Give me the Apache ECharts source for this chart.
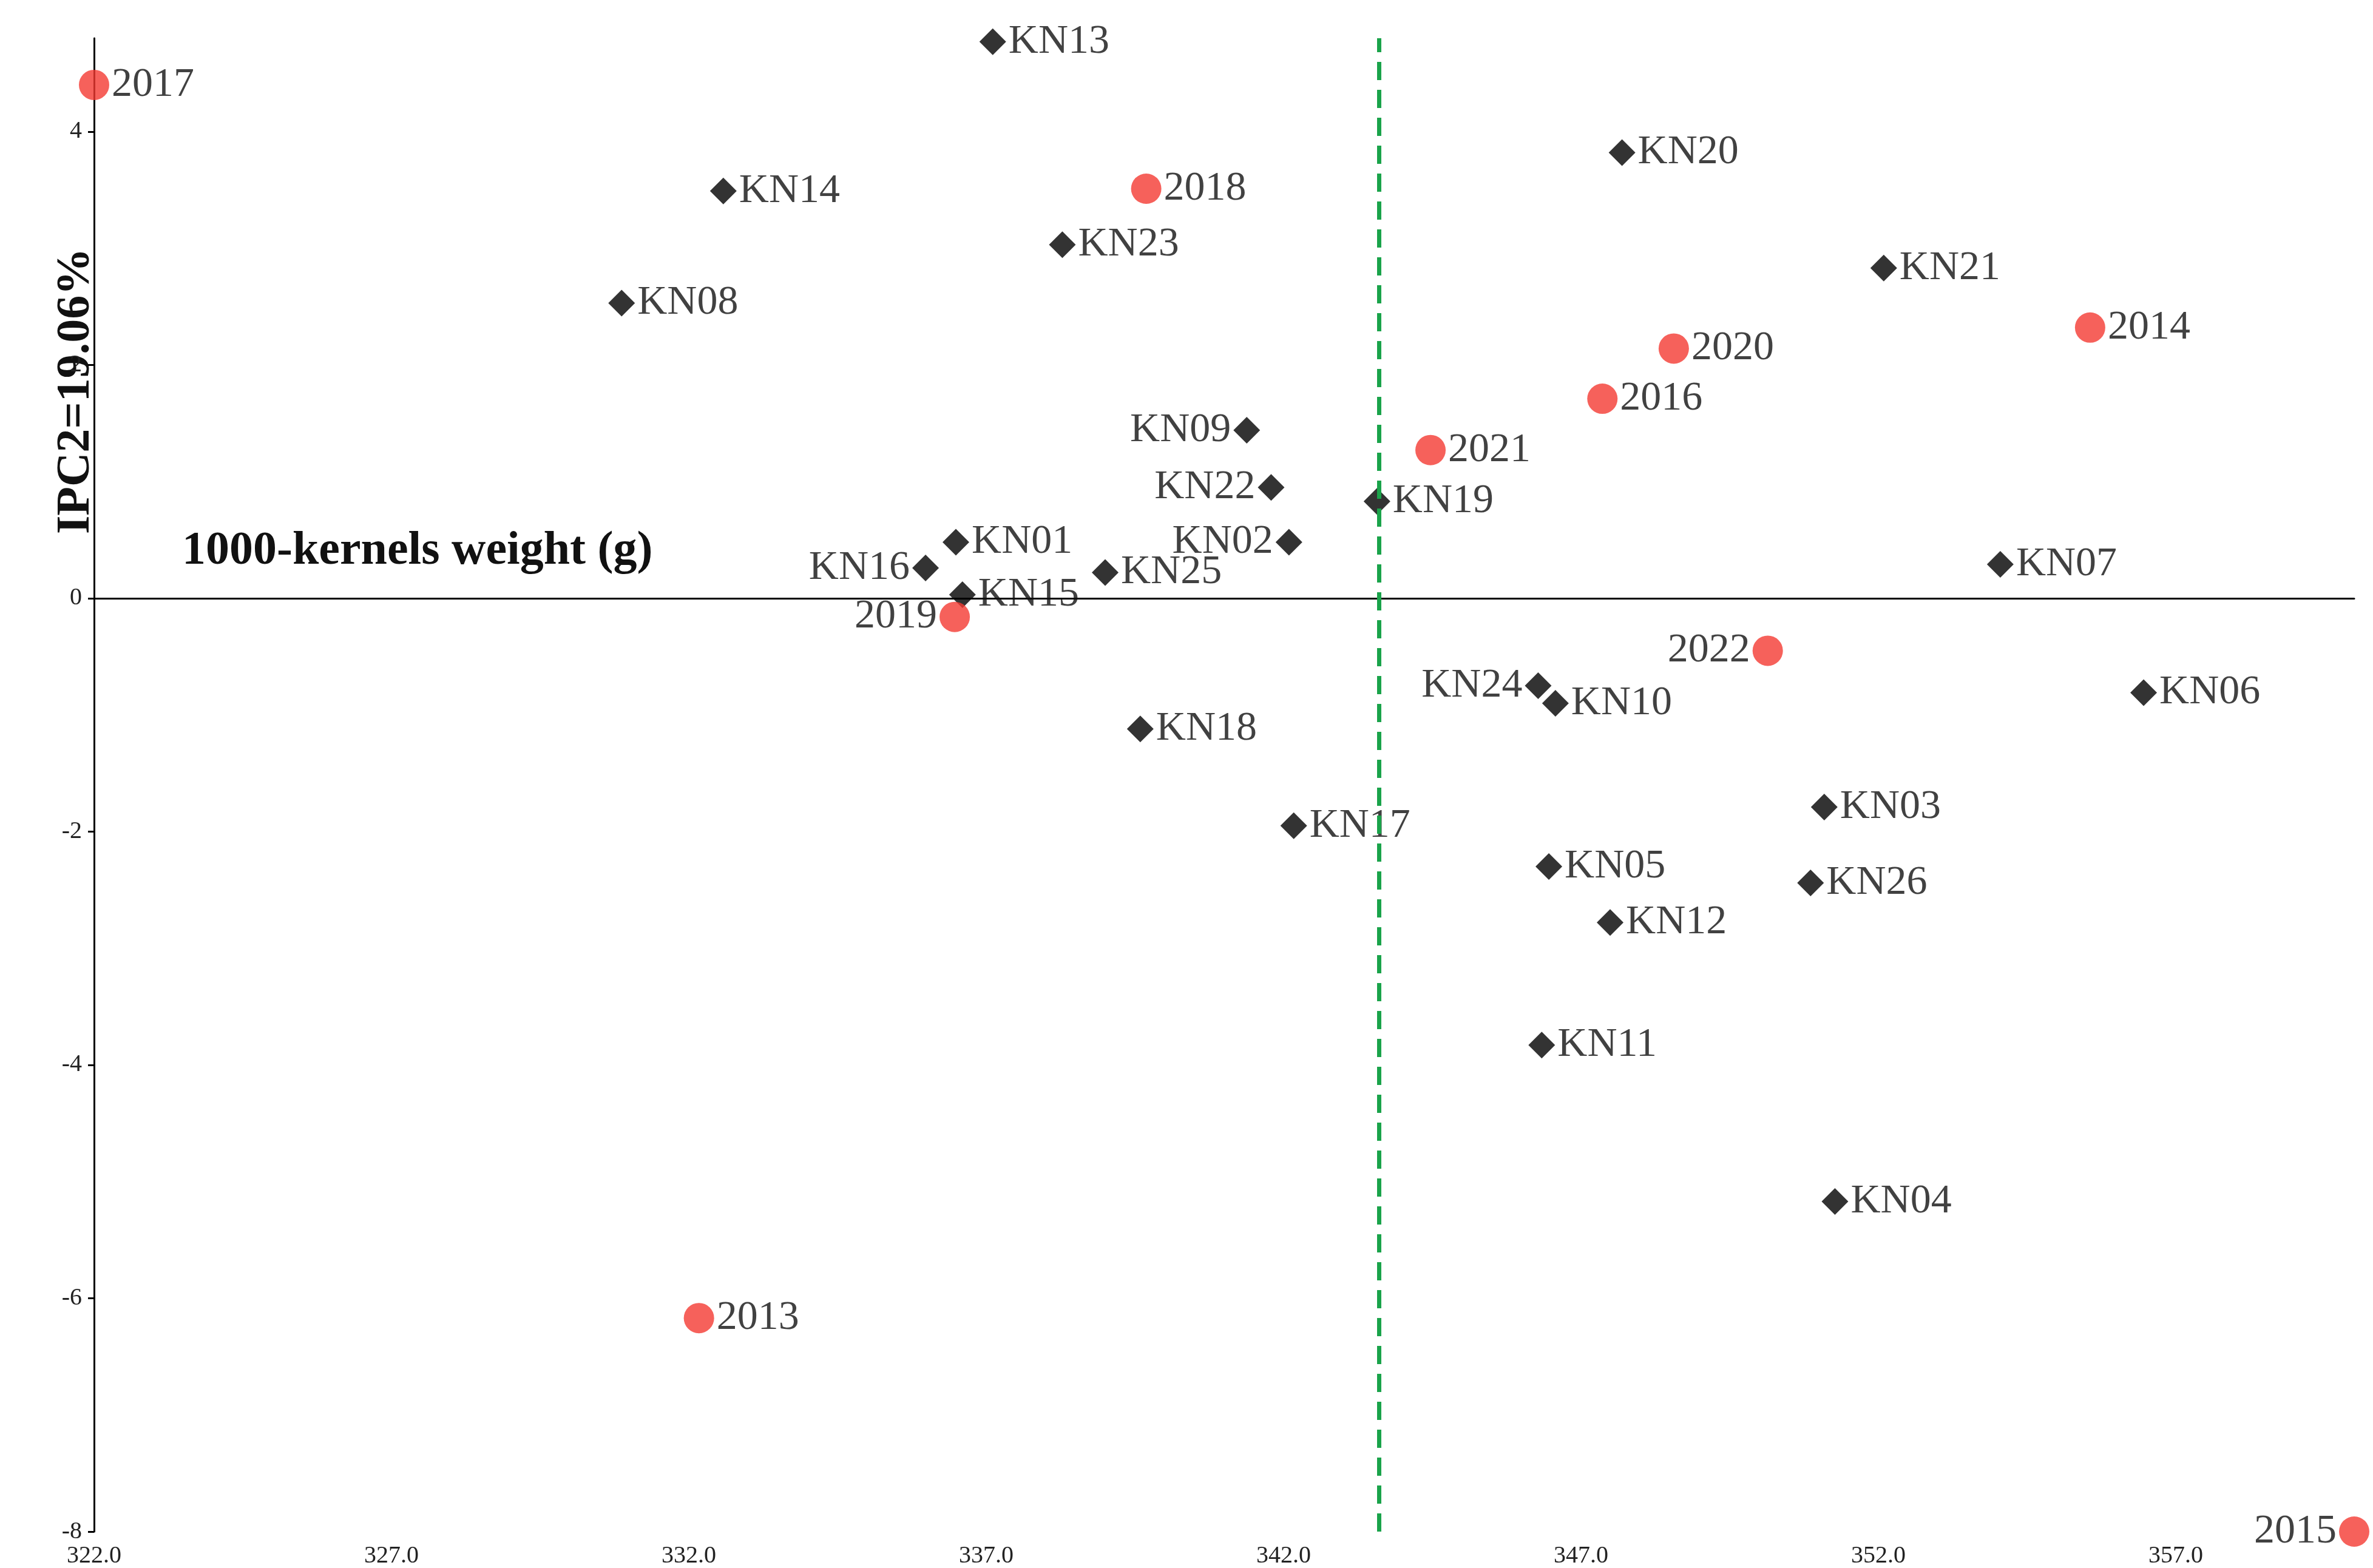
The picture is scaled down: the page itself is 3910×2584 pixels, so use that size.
<!DOCTYPE html>
<html>
<head>
<meta charset="utf-8">
<script src="https://cdn.jsdelivr.net/npm/echarts@6/dist/echarts.min.js"></script>
<style>html,body{margin:0;padding:0;background:#fff}#chart{width:3910px;height:2584px}</style>
</head>
<body>
<div id="chart"></div>
<script>
// genotypes (black diamonds)
var kernelNames = ['KN13','KN20','KN14','KN23','KN21','KN08','KN09','KN22','KN19','KN01','KN02','KN16','KN07','KN25','KN15','KN24','KN10','KN06','KN18','KN03','KN17','KN05','KN26','KN12','KN11','KN04'];
var kernelX = [337.11,347.69,332.58,338.28,352.09,330.87,341.38,341.79,343.57,336.49,342.09,335.98,354.05,339.0,336.6,346.28,346.57,356.46,339.59,351.09,342.17,346.46,350.86,347.49,346.34,351.27];
var kernelY = [4.77,3.82,3.49,3.03,2.83,2.53,1.44,0.95,0.83,0.48,0.48,0.26,0.29,0.22,0.03,-0.75,-0.90,-0.81,-1.12,-1.79,-1.95,-2.30,-2.44,-2.78,-3.83,-5.17];
// years (red circles)
var yearNames = ['2017','2018','2014','2020','2016','2021','2019','2022','2013','2015'];
var yearX = [322.0,339.69,355.56,348.56,347.36,344.47,336.47,350.14,332.17,360.0];
var yearY = [4.40,3.51,2.32,2.14,1.71,1.27,-0.16,-0.45,-6.17,-8.0];
// labels drawn to the left of the point
var leftLabels = ['KN16','KN09','KN22','KN02','KN24','2019','2022','2015'];
var meanLine = 343.6;

var font = 'Liberation Serif';
function build(names, xs, ys) {
	return names.map(function (n, i) {
		var d = { name: n, value: [xs[i], ys[i]] };
		if (leftLabels.indexOf(n) >= 0) d.label = { position: 'left' };
		return d;
	});
}
var lbl = { show: true, position: 'right', formatter: '{b}', color: '#111', fontSize: 68, fontFamily: font, distance: 4 };

var myChart = echarts.init(document.getElementById('chart'));
var option = {
	backgroundColor: '#fff',
	animation: false,
	grid: { left: 155, right: 31, top: 63, bottom: 53 },
	xAxis: {
		type: 'value', min: 322, max: 360, interval: 5,
		axisLine: { onZero: true, lineStyle: { color: '#000', width: 3 } },
		axisTick: { show: false },
		splitLine: { show: false },
		axisLabel: { showMaxLabel: false, fontSize: 40, fontFamily: font, color: '#222', margin: 20,
			formatter: function (v) { return v.toFixed(1); } }
	},
	yAxis: {
		type: 'value', min: -8, max: 4.8, interval: 2,
		axisLine: { show: true, lineStyle: { color: '#000', width: 3 } },
		axisTick: { show: true, length: 10, lineStyle: { color: '#000', width: 3 } },
		splitLine: { show: false },
		axisLabel: { showMaxLabel: false, fontSize: 40, fontFamily: font, color: '#222', margin: 20 }
	},
	graphic: [
		{ type: 'text', left: 300, top: 870, style: { text: '1000-kernels weight (g)', font: 'bold 78px "Liberation Serif"', fill: '#111' } },
		{ type: 'text', x: 165, y: 880, rotation: Math.PI / 2, style: { text: 'IPC2=19.06%', font: 'bold 78px "Liberation Serif"', fill: '#111', textAlign: 'left', textVerticalAlign: 'bottom' } }
	],
	series: [{
		type: 'scatter', symbol: 'diamond', symbolSize: 44,
		itemStyle: { color: '#000' },
		label: lbl,
		data: build(kernelNames, kernelX, kernelY),
		markLine: {
			silent: true, symbol: 'none', label: { show: false },
			lineStyle: { color: '#1aa34a', type: [30, 16], width: 7 },
			data: [{ xAxis: meanLine }]
		}
	}, {
		type: 'scatter', symbol: 'circle', symbolSize: 50,
		itemStyle: { color: '#f43a32' },
		label: lbl,
		data: build(yearNames, yearX, yearY)
	}]
};
myChart.setOption(option);
</script>
</body>
</html>
